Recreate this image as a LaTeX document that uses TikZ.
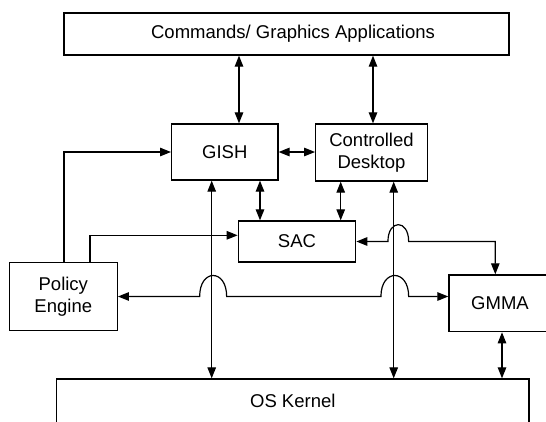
\documentclass[tikz,border=0pt]{standalone}
\usepackage{fontspec}
\setmainfont{Liberation Sans}
\usetikzlibrary{arrows.meta}
\begin{document}
\begin{tikzpicture}[x=1pt,y=-1pt,
  box/.style={draw, line width=1.3pt, inner sep=0pt, anchor=center},
  txt/.style={font=\fontsize{18.5}{21.5}\selectfont, align=center, inner sep=0pt},
  link/.style={line width=1.2pt},
  >={Triangle[length=11pt,width=8.5pt]}]
\useasboundingbox (0,0) rectangle (546,421);
\clip (0,0) rectangle (546,421);

% boxes
\node[box, minimum width=445pt, minimum height=42pt] (top) at (286.5,34) {};
\node[txt] (toptext) at (293,34) {Commands/ Graphics Applications};
\node[box, txt, minimum width=106.3pt, minimum height=56pt] (gish) at (224.8,152) {GISH};
\node[box, txt, minimum width=111.6pt, minimum height=57pt] (ctrl) at (371.5,152.5) {Controlled\\Desktop};
\node[box, txt, minimum width=117.4pt, minimum height=41pt] (sac) at (297,241.5) {SAC};
\node[box, txt, minimum width=108pt, minimum height=68.4pt] (policy) at (63.3,296.5) {Policy\\Engine};
\node[box, txt, minimum width=102pt, minimum height=56.7pt] (gmma) at (500,303.3) {GMMA};
\node[box, txt, minimum width=472.3pt, minimum height=44pt] (kernel) at (292.8,401) {OS Kernel};

% x positions of the vertical connectors, y of the policy-to-SAC run
\coordinate (c1) at (239,0);
\coordinate (c2) at (373,0);
\coordinate (c3) at (260,0);
\coordinate (c4) at (340.7,0);
\coordinate (c5) at (211.7,0);
\coordinate (c6) at (393.7,0);
\coordinate (c7) at (502,0);
\coordinate (p1) at (64,0);
\coordinate (p2) at (90,0);
\coordinate (g1) at (495.3,0);
\coordinate (h1) at (0,235.3);

% connectors
\draw[link,<->] (c1 |- top.south) -- (c1 |- gish.north);
\draw[link,<->] (c2 |- top.south) -- (c2 |- ctrl.north);
\draw[link,<->] (gish.east) -- (gish.east -| ctrl.west);
\draw[link,<->] (c3 |- gish.south) -- (c3 |- sac.north);
\draw[link,<->] (c4 |- ctrl.south) -- (c4 |- sac.north);
\draw[link,<->] (c5 |- gish.south) -- (c5 |- kernel.north);
\draw[link,<->] (c6 |- ctrl.south) -- (c6 |- kernel.north);
\draw[link,<->] (c7 |- gmma.south) -- (c7 |- kernel.north);
\draw[link,->] (p1 |- policy.north) |- (gish.west);
\draw[link,->] (p2 |- policy.north) -- (p2 |- h1) -- (sac.west |- h1);

% links that hop over the long verticals
\draw[link,<->] (sac.east) -- ++(31.6,0)
  .. controls +(0,-22.5) and +(0,-22.5) .. ++(20.7,0)
  -- (g1 |- sac.east) -- (g1 |- gmma.north);
\draw[link,<->] (policy.east) -- ++(81.7,0)
  .. controls +(0,-28) and +(0,-28) .. ++(27,0)
  -- ++(154.3,0)
  .. controls +(0,-28) and +(0,-28) .. ++(27.7,0)
  -- (gmma.west |- policy.east);
\end{tikzpicture}
\end{document}
